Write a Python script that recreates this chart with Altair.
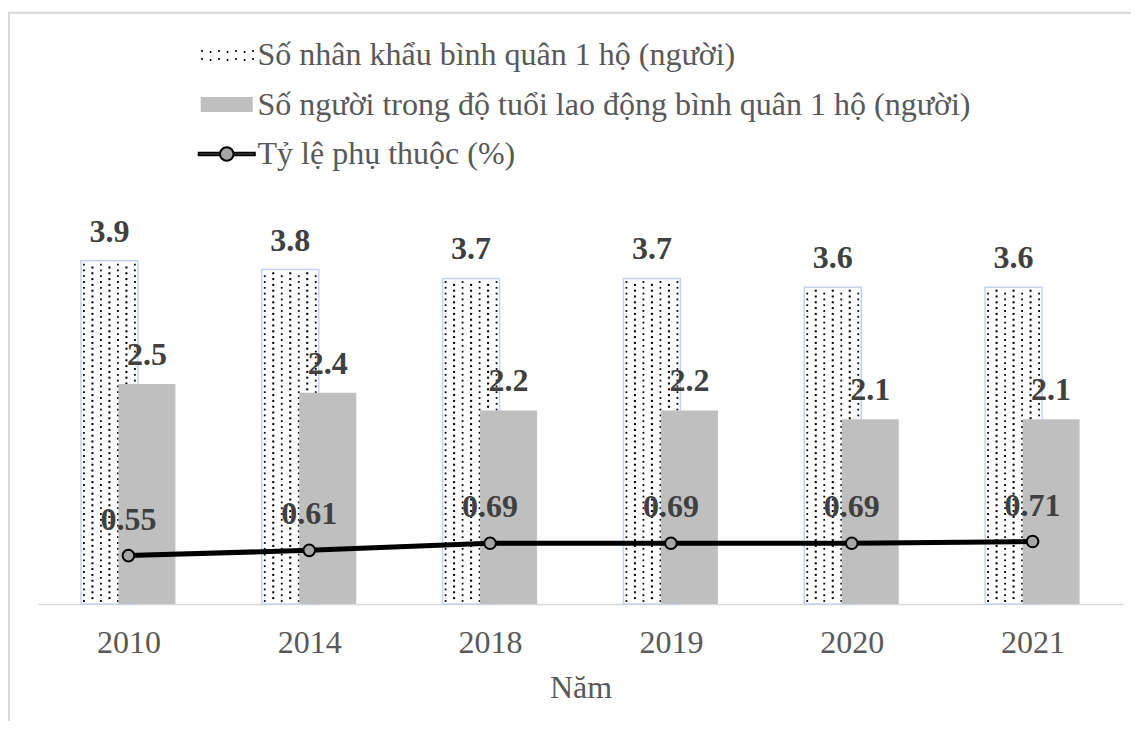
import altair as alt
import pandas as pd

# ---------------- data ----------------
years = ["2010", "2014", "2018", "2019", "2020", "2021"]
household_size = [3.9, 3.8, 3.7, 3.7, 3.6, 3.6]
working_age = [2.5, 2.4, 2.2, 2.2, 2.1, 2.1]
dependency = [0.55, 0.61, 0.69, 0.69, 0.69, 0.71]
series_names = [
    "Số nhân khẩu bình quân 1 hộ (người)",
    "Số người trong độ tuổi lao động bình quân 1 hộ (người)",
    "Tỷ lệ phụ thuộc (%)",
]
x_title = "Năm"

df = pd.DataFrame({
    "idx": list(range(len(years))),
    "year": years,
    "s1": household_size,
    "s2": working_age,
    "s3": dependency,
})
legend_df = pd.DataFrame({"series": series_names, "idx": [0] * 3, "v": [0] * 3})
frame_df = pd.DataFrame({"k": [0]})

# ---------------- style ----------------
FONT = "Liberation Serif"
PLOT_W, PLOT_H = 1085, 572
YMAX = 6.5
PX = PLOT_W / len(years)      # px per category on x
PY = PLOT_H / YMAX            # px per unit on y
BAR_W = 57
OFF1, OFF2 = -19, 18.5        # bar offsets from category centre (px)

x_scale = alt.Scale(domain=[-0.5, len(years) - 0.5], nice=False, zero=False, padding=0)
y_scale = alt.Scale(domain=[0, YMAX], nice=False, zero=True, padding=0)
label_expr = "[" + ",".join(f"'{y}'" for y in years) + "][datum.value]"
x_axis = alt.Axis(
    values=list(range(len(years))), labelExpr=label_expr, title=x_title,
    grid=False, ticks=False, tickSize=0, domainColor="#d9d9d9", domainWidth=1.5,
    labelFont=FONT, labelFontSize=32, labelColor="#595959",
    labelBaseline="alphabetic", labelPadding=48,
    titleFont=FONT, titleFontSize=32, titleFontWeight="normal",
    titleColor="#595959", titleY=93, titleBaseline="alphabetic",
)

def X(field="idx"):
    return alt.X(f"{field}:Q", scale=x_scale, axis=x_axis)

def Y(field):
    return alt.Y(f"{field}:Q", scale=y_scale, axis=None)

base = alt.Chart(df)

bar1 = base.mark_bar(width=BAR_W, xOffset=OFF1, fill="white",
                     stroke="#c5d3ec", strokeWidth=1.5).encode(x=X(), y=Y("s1"))

DOT_DX = 8.5
DOT_DY = 5.8
dots = (
    base.transform_calculate(col="sequence(0, 7)")
    .transform_flatten(["col"])
    .transform_calculate(
        dy_vals=f"sequence((3 + (datum.col % 2) * {DOT_DY / 2}) / {PY}, datum.s1 - 1.5 / {PY}, {DOT_DY} / {PY})"
    )
    .transform_flatten(["dy_vals"])
    .transform_calculate(
        dxv=f"datum.idx + ({OFF1} - 25.5 + datum.col * {DOT_DX}) / {PX}",
        sz="datum.col % 2 == 0 ? 3.2 : 4.2",
    )
    .mark_square(color="black", opacity=1)
    .encode(x=X("dxv"), y=Y("dy_vals"), size=alt.Size("sz:Q", scale=None, legend=None))
)

bar2 = base.mark_bar(width=BAR_W, xOffset=OFF2, color="#bfbfbf").encode(x=X(), y=Y("s2"))

line = base.mark_line(color="black", strokeWidth=5).encode(x=X(), y=Y("s3"))
pts = base.mark_point(shape="circle", size=135, filled=True, fill="#a6a6a6",
                      stroke="black", strokeWidth=2, opacity=1).encode(x=X(), y=Y("s3"))

txt_style = dict(font=FONT, fontSize=32, fontWeight="bold", color="#404040", baseline="alphabetic")
t1 = base.mark_text(xOffset=OFF1, dy=-19, **txt_style).encode(
    x=X(), y=Y("s1"), text=alt.Text("s1:Q", format=".1f"))
t2 = base.mark_text(xOffset=OFF2, dy=-19, **txt_style).encode(
    x=X(), y=Y("s2"), text=alt.Text("s2:Q", format=".1f"))
t3 = base.mark_text(dy=-26, **txt_style).encode(
    x=X(), y=Y("s3"), text=alt.Text("s3:Q", format=".2f"))

# ---------------- legend (native Vega legend with custom symbol paths) ----------------
SYM = 2070
U = (SYM ** 0.5) / 2  # px per path unit

def f(v):
    return f"{v / U:.3f}"

dot_path = ""
for c in range(7):
    xx = -25.5 + c * DOT_DX
    for yy in (-4 + (c % 2), 4 + (c % 2)):
        dot_path += f"M{f(xx)},{f(yy)}h{f(1.6)}"
rect_path = f"M{f(-25)},{f(-6.5)}H{f(25)}V{f(6.5)}H{f(-25)}Z"
r = 6.8
line_path = (
    f"M{f(-28)},{f(-1.2)}H{f(-r)}V{f(1.2)}H{f(-28)}Z"
    f"M{f(r)},{f(-1.2)}H{f(28)}V{f(1.2)}H{f(r)}Z"
    f"M{f(-r)},0A{f(r)},{f(r)} 0 1,0 {f(r)},0A{f(r)},{f(r)} 0 1,0 {f(-r)},0Z"
)

leg = alt.Legend(
    title=None, orient="none", legendX=164.75, legendY=-1, direction="vertical",
    labelFont=FONT, labelFontSize=32, labelColor="#595959", labelOffset=6.75,
    labelLimit=1000, symbolSize=SYM, symbolStrokeWidth=2, symbolOpacity=1,
    rowPadding=9.5, padding=0,
)
legend_layer = alt.Chart(legend_df).mark_point(filled=True, opacity=0).encode(
    x=X(), y=Y("v"),
    fill=alt.Fill("series:N", scale=alt.Scale(domain=series_names,
                  range=["black", "#bfbfbf", "#a6a6a6"]), legend=leg),
    stroke=alt.Stroke("series:N", scale=alt.Scale(domain=series_names,
                      range=["black", "#bfbfbf", "black"]), legend=leg),
    shape=alt.Shape("series:N", scale=alt.Scale(domain=series_names,
                    range=[dot_path, rect_path, line_path]), legend=leg),
)

# chart-area frame (only its left and top edges fall inside the page)
frame = alt.Chart(frame_df).mark_rect(fill=None, stroke="#d9d9d9", strokeWidth=2).encode(
    x=alt.value(-29), y=alt.value(-19.2), x2=alt.value(3000), y2=alt.value(3000))

chart = alt.layer(frame, bar1, dots, bar2, line, pts, t1, t2, t3, legend_layer).properties(
    width=PLOT_W, height=PLOT_H,
    padding={"left": 30, "top": 24, "right": 8, "bottom": 117},
    autosize=alt.AutoSizeParams(type="none"),
    background="white",
).configure_view(stroke=None)

chart.save("out.html", embed_options={"renderer": "svg", "actions": False})
